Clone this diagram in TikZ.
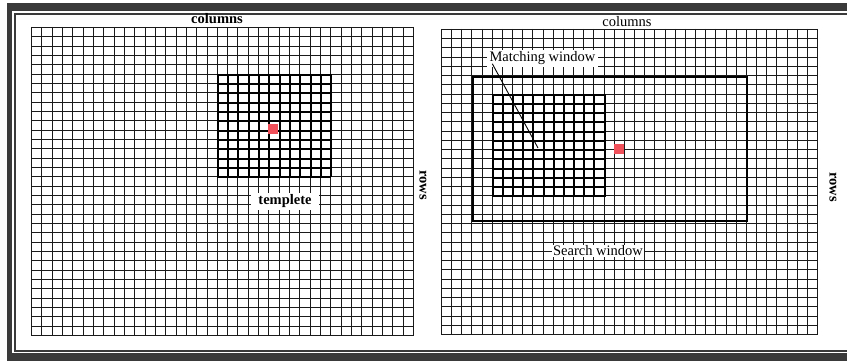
\documentclass[tikz,border=0pt]{standalone}
\usepackage{fontspec}
\setmainfont{Liberation Serif}
\definecolor{gridc}{HTML}{1A1A1A}
\definecolor{framec}{HTML}{3A3A3A}
\definecolor{redsq}{HTML}{F0505A}
\begin{document}
\begin{tikzpicture}[x=1pt,y=-1pt,
  gridline/.style={draw=gridc,line width=1.3pt},
  boldline/.style={draw=black,line width=2pt},
  lbl/.style={font=\fontsize{14.5}{16}\selectfont, inner sep=1.5pt},
  tag/.style={lbl, fill=white},
  marker/.style={fill=redsq}]
\useasboundingbox (0,0) rectangle (847,361);
% frame
\fill[framec] (7,3) rectangle (870,361);
\fill[white] (12,11) rectangle (865,353);
\draw[framec,line width=1.6pt] (15,14) rectangle (860,351);
% left grid
\foreach \i in {0,...,37}{\pgfmathsetmacro\xx{round(31+\i*382/37)+0.5}
  \draw[gridline] (\xx,27) -- (\xx,335.5);}
\foreach \j in {0,...,33}{\pgfmathsetmacro\yy{round(27+\j*308/33)+0.5}
  \draw[gridline] (31,\yy) -- (413.5,\yy);}
% template
\foreach \i in {18,...,29}{\pgfmathsetmacro\xx{round(31+\i*382/37)+1}
  \draw[boldline] (\xx,74) -- (\xx,177);}
\foreach \j in {5,...,16}{\pgfmathsetmacro\yy{round(27+\j*308/33)+1}
  \draw[boldline] (217,\yy) -- (331,\yy);}
\fill[marker] (268,124) rectangle (278,134);
% right grid
\foreach \i in {0,...,37}{\pgfmathsetmacro\xx{round(441+\i*376/37)+0.5}
  \draw[gridline] (\xx,29) -- (\xx,334.5);}
\foreach \j in {0,...,33}{\pgfmathsetmacro\yy{round(29+\j*305/33)+0.5}
  \draw[gridline] (441,\yy) -- (817.5,\yy);}
% search window
\draw[boldline,line width=1.6pt] (473,77) rectangle (747,221);
% matching window
\foreach \i in {5,...,16}{\pgfmathsetmacro\xx{round(441+\i*376/37)+1}
  \draw[boldline] (\xx,94) -- (\xx,197);}
\foreach \j in {7,...,18}{\pgfmathsetmacro\yy{round(29+\j*305/33)+1}
  \draw[boldline] (492,\yy) -- (605,\yy);}
\fill[marker] (614,144) rectangle (624,154);
% labels
\node[lbl] (colL) at (217,19) {\bfseries columns};
\node[lbl] (colR) at (627,22) {columns};
\node[lbl,rotate=-90] (rowsL) at (423,185) {\bfseries rows};
\node[lbl,rotate=-90] (rowsR) at (833,187) {\bfseries rows};
\node[tag,inner xsep=7pt] (tmpl) at (285,201.5) {\bfseries templete};
\node[tag,inner xsep=3pt] (mw) at (542.5,58.5) {Matching window};
\node[tag,inner sep=1pt] (sw) at (598,251) {Search window};
\coordinate (mwtip) at (538,148);
\draw[line width=0.9pt] ([xshift=6pt,yshift=3pt]mw.south west) -- (mwtip);
\end{tikzpicture}
\end{document}
